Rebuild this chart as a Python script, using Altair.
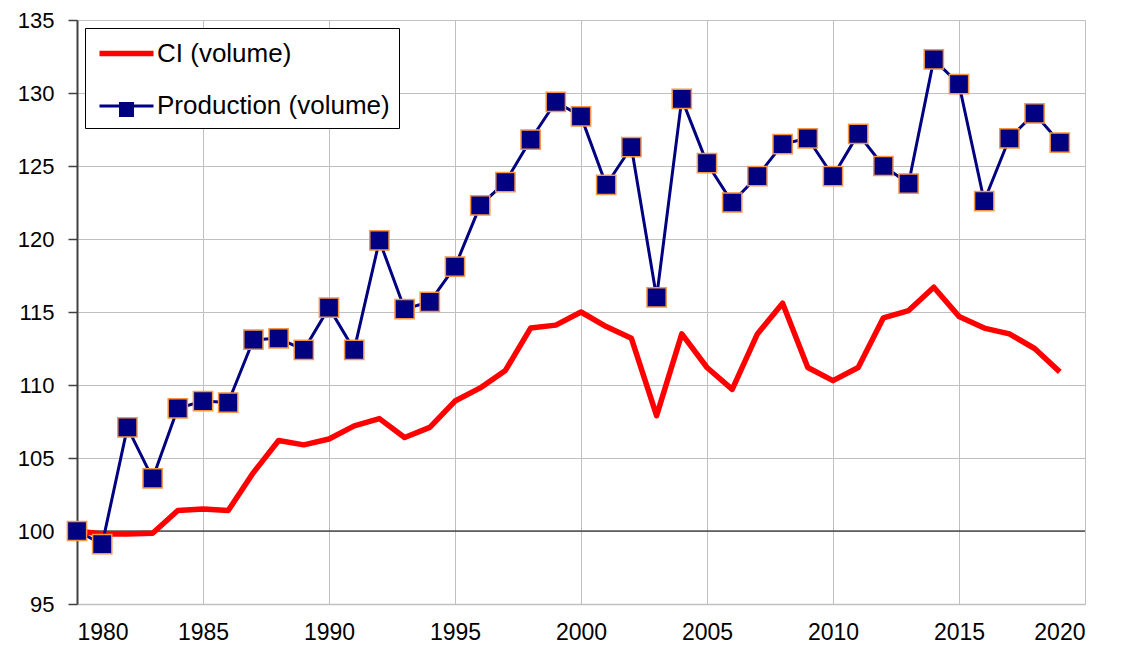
import altair as alt
import pandas as pd

years = list(range(1980, 2020))
ci_volume = [100.0, 99.8, 99.8, 99.85, 101.4, 101.5, 101.4, 104.0, 106.2, 105.9,
             106.3, 107.2, 107.7, 106.4, 107.1, 108.9, 109.8, 111.0, 113.9, 114.1,
             115.0, 114.0, 113.2, 107.9, 113.5, 111.2, 109.7, 113.5, 115.6, 111.2,
             110.3, 111.2, 114.6, 115.1, 116.7, 114.7, 113.9, 113.5, 112.5, 110.9]
production_volume = [100.0, 99.1, 107.1, 103.6, 108.4, 108.9, 108.8, 113.1, 113.2, 112.4,
                     115.3, 112.4, 119.9, 115.2, 115.7, 118.1, 122.3, 123.9, 126.8, 129.4,
                     128.4, 123.7, 126.3, 116.0, 129.6, 125.2, 122.5, 124.3, 126.5, 126.9,
                     124.3, 127.2, 125.0, 123.8, 132.3, 130.6, 122.6, 126.9, 128.6, 126.6]
series_names = ["CI (volume)", "Production (volume)"]
x_ticks = [1980, 1985, 1990, 1995, 2000, 2005, 2010, 2015, 2020]
y_ticks = [95, 100, 105, 110, 115, 120, 125, 130, 135]
baseline_value = [100]

FONT = "Liberation Sans"
GRID = "#c0c0c0"
AXIS_DARK = "#404040"
NAVY = "#000080"
ORANGE = "#f79646"

df = pd.DataFrame({
    "year": years * 2,
    "value": ci_volume + production_volume,
    "series": [series_names[0]] * len(years) + [series_names[1]] * len(years),
})
df_prod = pd.DataFrame({"year": years, "value": production_volume,
                        "mk": [series_names[1]] * len(years)})
df_base = pd.DataFrame({"value": baseline_value})

x_enc = alt.X("year:Q",
              scale=alt.Scale(domain=[x_ticks[0], x_ticks[-1]], nice=False, zero=False),
              axis=alt.Axis(values=x_ticks, format="d", title=None, ticks=False,
                            grid=True, gridColor=GRID, gridWidth=1,
                            domainColor=GRID, domainWidth=1.5,
                            labelFont=FONT, labelFontSize=23, labelColor="black",
                            labelPadding=17))
y_enc = alt.Y("value:Q",
              scale=alt.Scale(domain=[y_ticks[0], y_ticks[-1]], nice=False, zero=False),
              axis=alt.Axis(values=y_ticks, title=None, ticks=True, tickSize=9,
                            tickColor=AXIS_DARK, tickWidth=1.5,
                            grid=True, gridColor=GRID, gridWidth=1,
                            domainColor=AXIS_DARK, domainWidth=2,
                            labelFont=FONT, labelFontSize=22, labelColor="black",
                            labelPadding=14))

rule = alt.Chart(df_base).mark_rule(color="black", strokeWidth=1.2).encode(
    y=alt.Y("value:Q", scale=alt.Scale(domain=[y_ticks[0], y_ticks[-1]], nice=False, zero=False))
)

legend_main = alt.Legend(
    title=None, orient="none", legendX=8, legendY=8,
    padding=9, rowPadding=24, symbolOffset=16, labelOffset=14, labelLimit=500,
    symbolType="M-2,0H2", symbolSize=729,
    labelFont=FONT, labelFontSize=26, labelColor="black",
    fillColor="white", strokeColor="black", zindex=1)

lines = alt.Chart(df).mark_line(strokeJoin="round").encode(
    x=x_enc,
    y=y_enc,
    color=alt.Color("series:N",
                    scale=alt.Scale(domain=series_names, range=["#ff0000", NAVY]),
                    legend=legend_main),
    strokeWidth=alt.StrokeWidth("series:N",
                                scale=alt.Scale(domain=series_names, range=[5.5, 3]),
                                legend=legend_main),
)

points = alt.Chart(df_prod).mark_point(
    filled=True, fill=NAVY, stroke=ORANGE, strokeWidth=1.5, size=370, opacity=1
).encode(
    x="year:Q",
    y="value:Q",
    shape=alt.Shape("mk:N",
                    scale=alt.Scale(domain=[series_names[1]], range=["square"]),
                    legend=alt.Legend(
                        title=None, orient="none", legendX=41, legendY=81,
                        padding=0, symbolOffset=0, labelExpr="''", labelFontSize=1,
                        symbolType="square", symbolSize=225, symbolStrokeWidth=1.5,
                        symbolFillColor=NAVY, symbolStrokeColor=ORANGE, symbolOpacity=1,
                        zindex=2)),
)

chart = alt.layer(rule, lines, points).properties(
    width=1008, height=584,
    autosize=alt.AutoSizeParams(type="none"),
    padding={"left": 69, "top": 12, "right": 28, "bottom": 40},
).configure_view(stroke=GRID, strokeWidth=1.5).configure_legend(
    strokeWidth=2
).configure(font=FONT, background="white")

chart.save("out.html", embed_options={"renderer": "svg", "actions": False})
